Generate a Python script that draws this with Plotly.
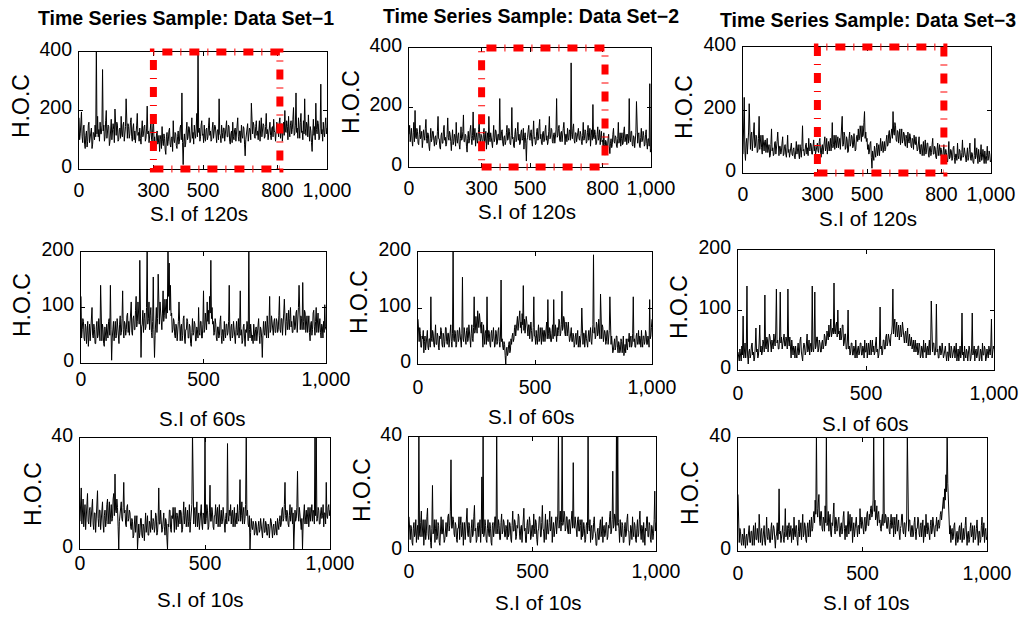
import plotly.graph_objects as go

W, H = 1029, 621

# ---------------- data (one value every 2.5 samples) ----------------
ds1_120s = [175, 100, 120, 160, 195, 110, 90, 140, 150, 85, 70, 115, 130, 75, 95, 150, 160, 90, 105, 135, 140, 70, 85, 125, 120, 100, 150, 110, 430, 120, 180, 110, 135, 95, 160, 120, 120, 150, 340, 130,
            150, 95, 110, 165, 200, 105, 125, 150, 145, 80, 95, 135, 170, 100, 120, 155, 135, 90, 205, 120, 115, 160, 150, 95, 100, 135, 140, 105, 180, 120, 110, 150, 160, 95, 125, 145, 240, 110, 105, 155,
            145, 105, 120, 160, 175, 110, 95, 140, 155, 100, 130, 90, 110, 150, 190, 115, 125, 95, 140, 105, 85, 130, 165, 110, 120, 145, 150, 95, 105, 140, 215, 120, 130, 90, 115, 150, 160, 100, 95, 140,
            180, 95, 110, 75, 70, 120, 130, 85, 90, 115, 60, 100, 115, 70, 145, 95, 80, 120, 105, 65, 50, 110, 125, 80, 95, 130, 140, 85, 75, 105, 110, 60, 165, 100, 90, 125, 120, 80, 70, 110,
            130, 85, 95, 140, 150, 100, 260, 90, 15, 95, 120, 75, 85, 130, 160, 100, 110, 145, 140, 90, 95, 130, 175, 105, 125, 85, 150, 120, 105, 140, 190, 110, 420, 125, 140, 95, 110, 150, 165, 115,
            120, 90, 150, 105, 95, 135, 140, 100, 110, 150, 175, 115, 130, 95, 100, 140, 160, 105, 120, 150, 145, 95, 90, 130, 135, 100, 240, 120, 115, 90, 150, 125, 105, 140, 140, 95, 125, 150, 165, 110,
            110, 150, 145, 95, 85, 120, 130, 90, 160, 110, 100, 135, 140, 95, 115, 150, 175, 110, 95, 130, 130, 90, 150, 115, 105, 145, 140, 85, 45, 100, 120, 150, 155, 95, 110, 140, 135, 100, 225, 130,
            120, 160, 150, 110, 105, 145, 165, 115, 130, 100, 140, 165, 95, 130, 175, 110, 125, 155, 150, 105, 110, 145, 190, 120, 135, 100, 120, 155, 160, 115, 100, 140, 145, 110, 170, 130, 125, 95, 140, 160,
            150, 120, 110, 160, 175, 105, 130, 155, 95, 140, 160, 115, 200, 130, 125, 165, 145, 100, 180, 130, 110, 150, 165, 120, 135, 170, 210, 115, 120, 150, 260, 125, 140, 105, 175, 140, 105, 160, 190, 125,
            130, 100, 165, 120, 240, 140, 115, 160, 150, 110, 185, 130, 95, 145, 130, 90, 60, 120, 170, 115, 145, 100, 225, 135, 120, 165, 155, 100, 105, 140, 290, 120, 135, 95, 160, 125, 110, 150, 175, 120,
            140]

ds2_120s = [110, 140, 85, 100, 130, 90, 70, 115, 150, 85, 190, 100, 95, 130, 120, 80, 75, 110, 140, 95, 100, 120, 65, 90, 125, 105, 90, 130, 160, 95, 80, 115, 110, 70, 55, 95, 130, 85, 95, 120,
            120, 90, 70, 100, 105, 75, 85, 120, 170, 95, 95, 65, 60, 105, 115, 80, 80, 125, 140, 90, 100, 70, 75, 110, 165, 100, 90, 120, 110, 85, 55, 95, 125, 75, 85, 110, 100, 70, 150, 95,
            80, 105, 115, 75, 60, 95, 135, 90, 95, 120, 175, 85, 85, 110, 105, 70, 50, 95, 120, 80, 90, 125, 140, 95, 75, 105, 185, 90, 100, 130, 70, 100, 115, 80, 90, 125, 160, 95, 80, 110,
            105, 85, 75, 110, 130, 80, 90, 120, 60, 95, 115, 75, 170, 100, 85, 115, 100, 70, 65, 100, 140, 85, 95, 125, 120, 75, 80, 110, 110, 90, 230, 95, 90, 120, 125, 80, 70, 100, 105, 75,
            85, 115, 140, 90, 95, 130, 120, 80, 75, 105, 200, 95, 100, 70, 65, 110, 130, 85, 90, 120, 150, 90, 110, 75, 80, 115, 125, 90, 95, 130, 60, 100, 115, 80, 20, 90, 100, 125, 140, 95,
            90, 115, 125, 85, 70, 110, 155, 95, 100, 75, 80, 120, 130, 90, 95, 135, 160, 95, 110, 80, 75, 115, 120, 85, 90, 125, 140, 90, 105, 75, 85, 120, 170, 95, 100, 130, 125, 85, 80, 110,
            115, 80, 95, 125, 230, 100, 105, 130, 140, 90, 85, 115, 120, 85, 100, 130, 150, 95, 75, 110, 110, 85, 130, 100, 90, 125, 120, 90, 350, 110, 95, 130, 145, 90, 80, 115, 115, 85, 100, 130,
            130, 95, 90, 120, 110, 85, 75, 105, 150, 90, 95, 125, 120, 80, 85, 115, 140, 90, 100, 130, 70, 105, 125, 90, 210, 100, 95, 125, 110, 75, 80, 110, 135, 90, 100, 125, 75, 100, 120, 85,
            90, 60, 115, 75, 40, 90, 85, 55, 60, 95, 110, 70, 45, 80, 95, 65, 75, 110, 130, 85, 80, 105, 100, 70, 65, 95, 150, 80, 90, 115, 70, 95, 115, 75, 80, 120, 135, 85, 95, 110,
            75, 110, 105, 80, 230, 95, 85, 120, 120, 75, 70, 105, 100, 65, 90, 115, 220, 85, 80, 110, 115, 70, 65, 100, 130, 85, 90, 120, 105, 70, 75, 110, 125, 80, 60, 95, 95, 70, 280, 50,
            60]

ds3_120s = [60, 130, 240, 70, 40, 95, 110, 60, 90, 130, 220, 85, 75, 120, 130, 70, 100, 140, 160, 80, 85, 120, 115, 65, 70, 110, 180, 75, 95, 120, 80, 60, 120, 85, 70, 100, 105, 65, 85, 110,
            65, 85, 90, 50, 55, 90, 140, 70, 80, 55, 60, 95, 100, 60, 75, 100, 130, 65, 55, 85, 85, 60, 70, 95, 115, 55, 60, 85, 90, 60, 50, 80, 120, 65, 75, 50, 65, 90, 95, 60,
            55, 75, 80, 50, 45, 70, 100, 60, 70, 90, 60, 45, 90, 65, 50, 85, 150, 70, 75, 55, 65, 90, 95, 60, 80, 55, 110, 75, 70, 95, 90, 60, 60, 85, 105, 70, 85, 60, 75, 95,
            95, 70, 65, 100, 110, 70, 50, 80, 90, 60, 75, 105, 115, 70, 80, 110, 60, 85, 100, 70, 85, 110, 70, 95, 160, 80, 90, 120, 75, 95, 120, 80, 95, 115, 80, 100, 110, 75, 100, 125,
            180, 85, 90, 130, 120, 75, 80, 115, 105, 65, 70, 110, 130, 85, 95, 120, 115, 80, 85, 125, 100, 70, 75, 115, 120, 100, 140, 105, 110, 150, 130, 100, 150, 115, 120, 160, 195, 110, 130, 100,
            110, 75, 90, 60, 70, 95, 100, 50, 15, 70, 60, 40, 85, 65, 50, 80, 95, 55, 70, 90, 55, 85, 110, 70, 80, 100, 65, 90, 100, 70, 75, 105, 120, 85, 90, 125, 135, 95, 110, 140,
            140, 110, 195, 130, 120, 160, 150, 105, 100, 135, 130, 95, 115, 140, 90, 120, 140, 95, 105, 130, 125, 90, 85, 120, 110, 80, 130, 100, 95, 125, 115, 85, 80, 110, 105, 75, 120, 95, 90, 115,
            100, 70, 75, 105, 115, 65, 60, 90, 90, 55, 80, 100, 55, 80, 105, 60, 70, 95, 95, 60, 50, 80, 85, 55, 65, 90, 110, 60, 60, 85, 80, 50, 45, 75, 95, 55, 70, 90, 55, 80,
            75, 45, 40, 70, 90, 50, 55, 75, 65, 40, 35, 60, 100, 45, 50, 75, 70, 40, 45, 80, 85, 50, 30, 60, 60, 40, 95, 55, 45, 75, 70, 40, 40, 65, 105, 50, 55, 80, 65, 35,
            35, 60, 80, 40, 50, 75, 95, 45, 40, 65, 60, 35, 30, 55, 110, 45, 55, 80, 45, 30, 75, 50, 35, 60, 90, 40, 50, 75, 40, 30, 70, 45, 30, 55, 85, 40, 45, 70, 60, 35,
            40]

ds1_60s = [120, 45, 60, 80, 75, 45, 40, 70, 65, 35, 50, 75, 30, 55, 70, 40, 55, 80, 100, 50, 45, 70, 60, 35, 35, 65, 75, 45, 50, 80, 65, 40, 140, 55, 40, 70, 60, 35, 30, 65,
           55, 40, 70, 50, 45, 75, 80, 50, 140, 60, 5, 45, 60, 75, 40, 65, 75, 45, 50, 80, 65, 40, 35, 70, 85, 50, 55, 80, 130, 60, 45, 75, 70, 50, 60, 85, 90, 55, 75, 50,
           65, 90, 110, 55, 50, 80, 85, 60, 60, 95, 120, 65, 75, 110, 95, 70, 185, 60, 10, 65, 70, 95, 55, 80, 90, 60, 65, 100, 215, 70, 80, 110, 60, 85, 100, 55, 45, 75, 155, 60,
           10, 50, 75, 100, 55, 80, 160, 70, 70, 110, 95, 65, 60, 90, 130, 75, 85, 115, 100, 80, 115, 90, 220, 120, 180, 95, 140, 85, 90, 55, 60, 80, 75, 50, 45, 70, 65, 40, 55, 75,
           110, 55, 40, 65, 70, 40, 50, 80, 85, 45, 35, 60, 60, 80, 75, 45, 45, 70, 65, 35, 30, 55, 80, 50, 55, 75, 70, 40, 40, 65, 60, 45, 100, 55, 50, 75, 75, 45, 45, 70,
           130, 55, 60, 90, 80, 60, 110, 75, 95, 70, 120, 90, 185, 80, 100, 70, 75, 50, 55, 80, 70, 45, 40, 65, 65, 45, 50, 75, 85, 50, 35, 60, 60, 40, 75, 55, 45, 70, 70, 50,
           55, 75, 140, 50, 40, 65, 70, 45, 50, 75, 60, 40, 35, 60, 75, 50, 55, 80, 45, 65, 130, 50, 60, 35, 40, 65, 70, 45, 30, 60, 55, 75, 65, 40, 215, 60, 45, 70, 60, 40,
           50, 35, 70, 45, 40, 60, 65, 40, 55, 75, 80, 50, 35, 65, 60, 45, 10, 50, 75, 55, 50, 75, 65, 45, 85, 60, 45, 70, 120, 55, 60, 85, 70, 50, 50, 75, 80, 55, 55, 80,
           75, 55, 60, 85, 120, 60, 55, 80, 80, 50, 65, 90, 115, 70, 50, 75, 90, 60, 70, 95, 60, 80, 100, 65, 75, 55, 55, 85, 85, 60, 65, 90, 95, 55, 70, 100, 140, 70, 60, 85,
           80, 60, 145, 75, 60, 95, 90, 55, 70, 85, 55, 80, 85, 55, 40, 70, 75, 50, 60, 90, 95, 65, 50, 75, 100, 55, 70, 90, 55, 80, 80, 55, 45, 70, 65, 45, 75, 55, 105, 65,
           60]

ds2_60s = [80, 50, 40, 65, 55, 30, 30, 50, 45, 60, 20, 40, 50, 25, 35, 55, 60, 30, 25, 45, 45, 30, 120, 45, 40, 60, 55, 35, 30, 50, 70, 35, 35, 55, 50, 30, 25, 50, 45, 65,
           60, 35, 30, 55, 50, 30, 40, 65, 65, 40, 35, 55, 55, 30, 45, 60, 70, 40, 30, 55, 215, 45, 40, 60, 55, 30, 35, 60, 60, 40, 45, 65, 50, 30, 30, 55, 155, 45, 40, 65,
           55, 40, 35, 60, 65, 40, 45, 70, 50, 35, 30, 55, 70, 45, 40, 65, 120, 55, 60, 85, 75, 55, 95, 70, 65, 90, 80, 60, 55, 75, 45, 30, 70, 50, 35, 55, 60, 35, 120, 45,
           40, 60, 55, 35, 30, 55, 60, 40, 45, 65, 50, 30, 35, 60, 55, 35, 40, 60, 65, 40, 30, 50, 150, 40, 45, 30, 25, 40, 35, 15, 0, 25, 30, 15, 20, 35, 40, 20, 25, 45,
           35, 50, 55, 40, 45, 65, 70, 50, 60, 80, 85, 60, 70, 90, 95, 65, 75, 55, 90, 70, 140, 60, 80, 55, 65, 85, 75, 50, 50, 70, 70, 45, 55, 75, 60, 40, 45, 65, 120, 50,
           50, 35, 60, 45, 35, 55, 70, 40, 45, 65, 55, 35, 65, 45, 40, 60, 60, 40, 50, 70, 75, 45, 115, 55, 45, 65, 60, 40, 40, 55, 70, 45, 115, 50, 50, 70, 55, 40, 65, 50,
           60, 80, 75, 50, 55, 70, 130, 60, 65, 85, 80, 55, 50, 75, 70, 50, 60, 75, 55, 40, 45, 60, 65, 40, 40, 55, 50, 30, 35, 50, 55, 35, 45, 60, 30, 45, 50, 30, 40, 55,
           100, 45, 35, 55, 55, 30, 40, 60, 45, 30, 30, 50, 60, 40, 50, 65, 40, 35, 55, 70, 195, 55, 65, 45, 50, 75, 70, 50, 55, 80, 60, 45, 125, 55, 45, 70, 65, 40, 50, 60,
           55, 35, 40, 60, 60, 35, 45, 60, 120, 40, 35, 50, 40, 20, 25, 45, 45, 25, 30, 50, 50, 30, 20, 40, 35, 20, 25, 45, 40, 20, 30, 50, 15, 30, 35, 20, 45, 30, 25, 45,
           40, 55, 30, 45, 50, 30, 35, 55, 120, 40, 45, 30, 30, 50, 55, 35, 40, 60, 35, 50, 45, 30, 60, 40, 30, 50, 50, 35, 40, 60, 55, 35, 35, 50, 45, 30, 115, 45, 50, 65,
           80]

ds3_60s = [30, 20, 15, 35, 25, 15, 40, 25, 90, 20, 30, 45, 20, 35, 140, 25, 10, 30, 35, 20, 25, 40, 45, 25, 30, 15, 20, 40, 70, 30, 35, 20, 25, 45, 75, 30, 40, 25, 30, 50,
           45, 30, 125, 40, 35, 55, 50, 30, 40, 60, 55, 35, 30, 50, 45, 35, 60, 40, 40, 65, 135, 45, 50, 35, 35, 55, 130, 45, 55, 35, 45, 60, 60, 40, 40, 55, 50, 35, 135, 50,
           40, 55, 30, 20, 50, 35, 25, 40, 35, 20, 40, 25, 20, 35, 45, 25, 30, 50, 55, 30, 25, 15, 35, 45, 40, 25, 30, 45, 60, 30, 35, 50, 25, 40, 45, 30, 140, 35, 30, 45,
           130, 35, 40, 55, 55, 30, 35, 50, 45, 30, 30, 45, 50, 35, 40, 60, 55, 40, 45, 65, 60, 50, 75, 55, 65, 85, 55, 70, 70, 60, 145, 65, 60, 75, 80, 55, 100, 60, 65, 50,
           70, 50, 55, 75, 75, 40, 45, 60, 60, 35, 35, 50, 100, 35, 40, 25, 30, 45, 45, 25, 25, 40, 35, 20, 50, 30, 20, 35, 40, 25, 30, 45, 45, 25, 25, 40, 35, 20, 50, 30,
           30, 45, 20, 35, 45, 25, 35, 50, 25, 40, 50, 30, 40, 25, 30, 45, 55, 30, 35, 20, 25, 40, 105, 35, 40, 25, 30, 50, 50, 35, 35, 55, 60, 40, 45, 60, 55, 45, 40, 60,
           60, 75, 135, 60, 70, 85, 55, 70, 80, 55, 65, 75, 50, 65, 75, 55, 60, 80, 70, 50, 45, 60, 65, 45, 55, 70, 40, 50, 60, 40, 45, 55, 35, 45, 50, 30, 40, 50, 30, 40,
           45, 25, 30, 45, 40, 20, 25, 40, 35, 20, 50, 30, 30, 45, 20, 35, 40, 25, 35, 50, 25, 35, 115, 30, 30, 45, 45, 25, 25, 40, 110, 30, 35, 20, 20, 40, 40, 25, 30, 45,
           35, 20, 25, 40, 40, 25, 15, 30, 30, 15, 45, 25, 20, 40, 35, 20, 25, 35, 40, 20, 30, 45, 15, 30, 35, 15, 25, 40, 20, 30, 95, 25, 30, 15, 40, 25, 20, 35, 30, 15,
           25, 40, 35, 15, 20, 35, 95, 25, 30, 40, 15, 30, 35, 20, 25, 40, 40, 15, 20, 35, 30, 15, 45, 25, 25, 40, 35, 15, 20, 35, 30, 20, 40, 25, 25, 40, 85, 20, 30, 40,
           35]

ds1_10s = [10, 16, 22, 9, 14, 18, 8, 13, 16, 7, 12, 17, 20, 10, 9, 14, 15, 8, 11, 16, 18, 9, 7, 13, 13, 6, 10, 15, 21, 11, 8, 14, 14, 7, 12, 17, 17, 9, 6, 12,
           14, 8, 10, 16, 18, 9, 12, 17, 9, 14, 16, 10, 11, 18, 20, 12, 27, 14, 13, 18, 15, 8, 0, 10, 12, 16, 17, 11, 10, 15, 24, 13, 14, 9, 8, 15, 16, 10, 11, 14,
           13, 8, 7, 11, 10, 4, 5, 9, 12, 6, 8, 12, 0, 7, 9, 4, 6, 11, 11, 5, 4, 9, 8, 3, 10, 13, 6, 9, 12, 5, 5, 10, 9, 6, 14, 8, 7, 11, 10, 6,
           8, 13, 12, 5, 6, 10, 22, 9, 9, 14, 11, 6, 7, 12, 13, 8, 5, 11, 10, 4, 0, 9, 8, 14, 14, 7, 6, 12, 11, 15, 9, 6, 15, 10, 7, 13, 12, 8, 10, 14,
           9, 14, 13, 6, 7, 12, 17, 9, 11, 15, 8, 13, 14, 8, 10, 16, 6, 10, 12, 16, 42, 10, 9, 14, 15, 8, 11, 17, 8, 12, 13, 7, 10, 15, 16, 9, 7, 13, 12, 9,
           42, 9, 11, 16, 14, 7, 8, 13, 23, 10, 10, 15, 13, 8, 7, 12, 12, 16, 9, 13, 15, 8, 11, 16, 8, 13, 14, 9, 10, 15, 12, 7, 6, 11, 13, 9, 38, 12, 10, 14,
           12, 16, 9, 13, 14, 8, 11, 15, 8, 12, 13, 9, 16, 11, 10, 14, 25, 10, 12, 17, 9, 13, 15, 9, 11, 16, 42, 12, 14, 9, 8, 12, 0, 6, 11, 8, 7, 10, 9, 5,
           6, 10, 9, 5, 5, 8, 10, 6, 7, 11, 8, 4, 4, 9, 11, 6, 6, 10, 9, 5, 5, 9, 8, 4, 7, 11, 10, 6, 4, 8, 9, 5, 6, 10, 8, 5, 11, 7, 7, 10,
           12, 8, 9, 14, 15, 10, 11, 16, 24, 12, 10, 14, 13, 9, 8, 12, 16, 10, 12, 15, 9, 13, 0, 8, 14, 10, 11, 15, 28, 13, 10, 15, 13, 9, 7, 11, 0, 9, 12, 16,
           9, 13, 14, 9, 11, 15, 8, 12, 15, 10, 12, 16, 10, 14, 13, 9, 42, 12, 42, 10, 11, 15, 14, 9, 9, 13, 15, 11, 12, 16, 8, 13, 13, 9, 24, 12, 11, 15, 16, 12,
           14]

ds2_10s = [12, 6, 4, 9, 8, 3, 2, 8, 10, 5, 6, 11, 3, 7, 9, 4, 42, 6, 5, 10, 14, 5, 7, 11, 2, 8, 11, 4, 6, 12, 15, 6, 4, 9, 9, 3, 1, 8, 23, 6,
           7, 11, 3, 8, 11, 4, 5, 10, 9, 3, 2, 7, 12, 6, 6, 11, 8, 3, 4, 9, 10, 5, 7, 12, 13, 7, 9, 14, 32, 8, 8, 12, 11, 6, 5, 10, 9, 4, 3, 8,
           8, 12, 4, 9, 12, 5, 6, 10, 2, 7, 10, 4, 7, 11, 15, 6, 5, 10, 9, 3, 3, 8, 11, 5, 6, 12, 16, 7, 8, 3, 4, 9, 10, 5, 7, 11, 3, 8, 26, 6,
           42, 5, 6, 11, 9, 4, 3, 8, 11, 6, 5, 10, 8, 3, 2, 9, 10, 5, 7, 12, 12, 6, 42, 8, 6, 11, 9, 4, 4, 10, 13, 6, 7, 11, 10, 5, 5, 9, 8, 4,
           11, 5, 6, 10, 9, 4, 3, 9, 14, 7, 7, 11, 10, 4, 5, 9, 8, 13, 12, 6, 4, 8, 9, 3, 6, 11, 15, 7, 8, 3, 3, 9, 11, 6, 7, 12, 10, 4, 5, 9,
           9, 5, 13, 8, 6, 11, 10, 4, 2, 7, 8, 12, 12, 5, 5, 10, 16, 8, 7, 3, 9, 13, 4, 8, 11, 6, 6, 10, 14, 7, 8, 12, 3, 7, 10, 5, 7, 11, 12, 6,
           9, 13, 42, 8, 11, 14, 7, 10, 42, 9, 10, 14, 13, 7, 8, 12, 12, 7, 6, 11, 11, 6, 9, 13, 14, 8, 31, 9, 8, 12, 10, 6, 5, 11, 12, 7, 7, 11, 9, 4,
           11, 5, 6, 10, 8, 3, 4, 9, 10, 6, 42, 9, 7, 11, 3, 8, 9, 4, 5, 10, 12, 7, 6, 2, 2, 7, 8, 4, 4, 9, 11, 5, 7, 12, 3, 8, 9, 5, 6, 10,
           10, 4, 5, 9, 8, 12, 14, 6, 7, 11, 28, 8, 9, 13, 12, 7, 42, 9, 42, 10, 8, 3, 11, 6, 5, 10, 9, 3, 3, 8, 10, 5, 6, 11, 13, 7, 7, 2, 4, 9,
           8, 4, 12, 7, 5, 10, 9, 4, 3, 8, 11, 5, 6, 11, 14, 7, 4, 9, 8, 3, 10, 6, 2, 8, 7, 12, 12, 5, 5, 10, 9, 4, 3, 9, 8, 4, 6, 11, 21, 7,
           10]

ds3_10s = [20, 6, 3, 8, 7, 3, 2, 6, 5, 2, 8, 4, 1, 5, 6, 2, 4, 8, 9, 3, 3, 7, 7, 2, 5, 9, 2, 6, 10, 4, 4, 8, 6, 3, 13, 5, 3, 7, 8, 2,
           5, 8, 9, 3, 2, 6, 12, 5, 4, 8, 7, 3, 3, 8, 10, 4, 6, 9, 8, 3, 1, 5, 6, 10, 4, 7, 22, 6, 7, 3, 5, 9, 9, 4, 3, 7, 15, 5, 6, 9,
           4, 8, 10, 5, 6, 9, 3, 7, 8, 4, 12, 6, 5, 9, 9, 4, 2, 7, 11, 5, 7, 10, 4, 8, 13, 5, 6, 10, 9, 4, 3, 8, 10, 5, 7, 11, 5, 9, 12, 7,
           8, 12, 14, 10, 18, 13, 42, 15, 12, 17, 20, 11, 9, 14, 14, 8, 7, 12, 11, 7, 16, 10, 42, 9, 10, 14, 7, 11, 13, 6, 5, 10, 9, 13, 17, 8, 6, 12, 11, 7,
           8, 11, 12, 6, 5, 9, 10, 6, 7, 12, 14, 8, 4, 9, 9, 5, 11, 14, 6, 10, 13, 7, 8, 12, 3, 7, 10, 5, 7, 11, 12, 8, 5, 9, 9, 6, 15, 10, 8, 12,
           10, 7, 6, 11, 12, 7, 8, 13, 14, 9, 9, 13, 11, 15, 16, 12, 13, 18, 42, 14, 18, 11, 12, 16, 9, 13, 14, 10, 11, 8, 7, 11, 13, 9, 42, 10, 10, 13, 12, 8,
           8, 12, 11, 7, 6, 10, 13, 8, 9, 12, 5, 9, 12, 6, 10, 13, 7, 10, 11, 6, 4, 8, 9, 13, 13, 7, 6, 10, 10, 5, 8, 11, 42, 9, 7, 11, 11, 6, 5, 9,
           9, 5, 6, 10, 12, 7, 4, 8, 8, 12, 11, 6, 5, 9, 10, 5, 7, 11, 3, 7, 9, 5, 13, 8, 6, 10, 8, 4, 4, 9, 11, 6, 7, 12, 10, 6, 5, 9, 9, 12,
           7, 10, 11, 8, 9, 13, 14, 11, 13, 17, 19, 15, 22, 18, 27, 21, 42, 24, 18, 10, 6, 9, 3, 7, 8, 4, 5, 9, 10, 5, 2, 6, 7, 3, 4, 8, 9, 4, 6, 10,
           3, 7, 8, 4, 5, 9, 12, 6, 2, 6, 7, 3, 4, 8, 10, 5, 6, 9, 3, 7, 9, 4, 5, 8, 11, 6, 2, 7, 7, 3, 4, 9, 12, 5, 6, 10, 3, 7, 8, 4,
           5]

SAMPLE_STEP = 2.5
series = [ds1_120s, ds2_120s, ds3_120s,
          ds1_60s, ds2_60s, ds3_60s,
          ds1_10s, ds2_10s, ds3_10s]

panel_titles = ["Time Series Sample: Data Set\u22121",
                "Time Series Sample: Data Set\u22122",
                "Time Series Sample: Data Set\u22123"]
x_titles = ["S.I of 120s", "S.I of 60s", "S.I of 10s"]
y_title = "H.O.C"
x_tickvals_by_row = [[0, 300, 500, 800, 1000], [0, 500, 1000], [0, 500, 1000]]
x_ticktext_by_row = [["0", "300", "500", "800", "1,000"], ["0", "500", "1,000"], ["0", "500", "1,000"]]
y_tickvals_by_row = [[0, 200, 400], [0, 100, 200], [0, 40]]
y_max_by_row = [400, 200, 40]
x_max = 1000
highlight_window = [300, 810]

# ---------------- layout (pixel positions measured on the reference) ----------------
boxes = [(79, 327, 52, 169), (409, 651, 48, 167), (743, 991, 47, 173),
         (81, 326, 252, 363), (418, 652, 252, 364), (738, 994, 250, 370),
         (80, 330, 438, 549), (409, 656, 437, 551), (738, 987, 438, 551)]
xlab_standoff = [3, 3, 3, -2, 5, 5, -4, 2, 4]
title_pos = [(186, 18), (531, 16), (868, 20)]
xtitle_pos = [(199, 214), (527, 212), (868, 218), (202, 418), (531, 416),
              (865, 423), (200, 599), (538, 602), (866, 602)]
ytitle_pos = [(21, 106), (351, 102), (684, 107), (22, 305), (359, 302),
              (679, 307), (33, 494), (362, 490), (690, 493)]

FONT = "Liberation Sans, Arial, sans-serif"
tick_font = dict(family=FONT, size=19.5, color="black")

fig = go.Figure()
annotations = []
shapes = []
for i, vals in enumerate(series):
    row, col = divmod(i, 3)
    sfx = "" if i == 0 else str(i + 1)
    xs = [k * SAMPLE_STEP for k in range(len(vals))]
    fig.add_trace(go.Scatter(x=xs, y=vals, mode="lines",
                             line=dict(color="black", width=1),
                             xaxis="x" + sfx, yaxis="y" + sfx,
                             hoverinfo="skip", showlegend=False))
    l, r, t, b = boxes[i]
    common = dict(ticks="inside", ticklen=4, tickwidth=1, tickcolor="black",
                  showline=True, mirror="ticks", linecolor="black", linewidth=1.2,
                  showgrid=False, zeroline=False, tickfont=tick_font,
                  automargin=False, tickangle=0, tickmode="array")
    fig.update_layout({
        "xaxis" + sfx: dict(domain=[l / W, r / W], anchor="y" + sfx, range=[0, x_max],
                            tickvals=x_tickvals_by_row[row], ticktext=x_ticktext_by_row[row],
                            ticklabelstandoff=xlab_standoff[i], **common),
        "yaxis" + sfx: dict(domain=[1 - b / H, 1 - t / H], anchor="x" + sfx,
                            range=[0, y_max_by_row[row]], tickvals=y_tickvals_by_row[row],
                            ticklabelstandoff=2, ticklabelshift=-3, **common),
    })
    xp, yp = xtitle_pos[i]
    annotations.append(dict(text=x_titles[row], x=xp / W, y=1 - yp / H, xref="paper", yref="paper",
                            xanchor="center", yanchor="middle", showarrow=False,
                            font=dict(family=FONT, size=20.5, color="black")))
    xp, yp = ytitle_pos[i]
    annotations.append(dict(text=y_title, x=xp / W, y=1 - yp / H, xref="paper", yref="paper",
                            xanchor="center", yanchor="middle", showarrow=False, textangle=-90,
                            font=dict(family=FONT, size=23, color="black")))
    if row == 0:
        shapes.append(dict(type="rect", xref="x" + sfx, yref="y" + sfx + " domain",
                           x0=highlight_window[0], x1=highlight_window[1], y0=0, y1=1,
                           line=dict(color="red", width=7, dash="10px,8px,1px,8px"),
                           fillcolor="rgba(0,0,0,0)", layer="above"))

for c, txt in enumerate(panel_titles):
    xp, yp = title_pos[c]
    annotations.append(dict(text="<b>" + txt + "</b>", x=xp / W, y=1 - yp / H, xref="paper", yref="paper",
                            xanchor="center", yanchor="middle", showarrow=False,
                            font=dict(family=FONT, size=19.5, color="black")))

fig.update_layout(width=W, height=H, margin=dict(l=0, r=0, t=0, b=0, autoexpand=False),
                  paper_bgcolor="white", plot_bgcolor="white",
                  showlegend=False, hovermode=False,
                  annotations=annotations, shapes=shapes)

fig.write_html("out.html")
